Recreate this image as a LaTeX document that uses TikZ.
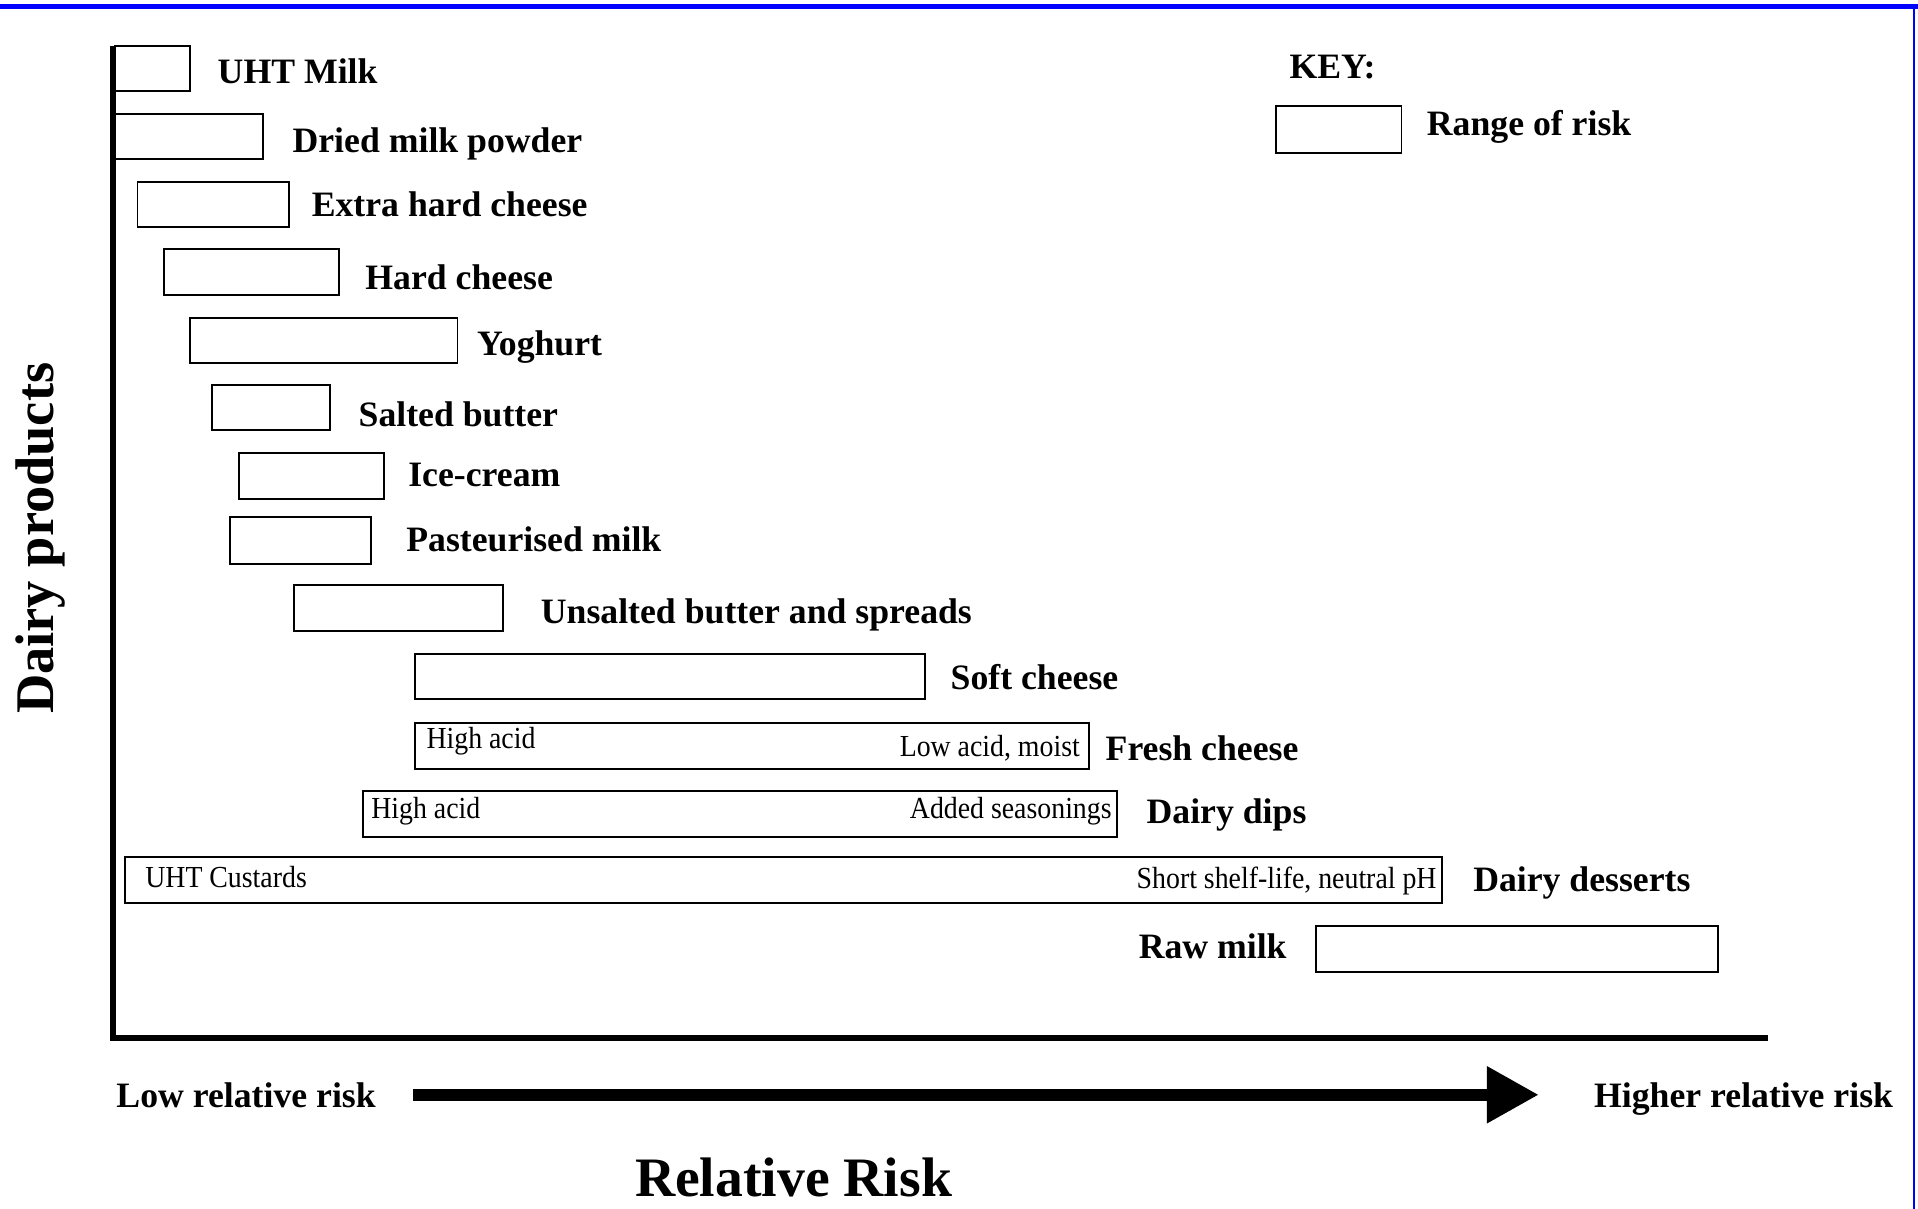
\documentclass[tikz,border=0pt]{standalone}
\usepackage{fontspec}
\setmainfont{Liberation Serif}
\newfontfamily\smallserif[FakeStretch=0.91]{Liberation Serif}
\usetikzlibrary{arrows.meta,fit}
\begin{document}
\begin{tikzpicture}[x=1pt,y=-1pt,
  rbox/.style={draw=black,line width=1.5pt,inner sep=0pt},
  lab/.style={inner sep=0pt,anchor=base west,font=\bfseries\fontsize{29.2}{34}\selectfont},
  labr/.style={inner sep=0pt,anchor=base east,font=\bfseries\fontsize{29.2}{34}\selectfont},
  sm/.style={inner sep=0pt,anchor=base west,font=\smallserif\fontsize{25}{29}\selectfont},
  smr/.style={inner sep=0pt,anchor=base east,font=\smallserif\fontsize{25}{29}\selectfont},
  big/.style={inner sep=0pt,font=\bfseries\fontsize{45.5}{52}\selectfont},
  axisline/.style={line width=#1,black},
  frameline/.style={line width=#1,blue}]
\useasboundingbox (0,0) rectangle (1568,988);
% frame
\coordinate (ftl) at (0,5.5);
\coordinate (ftr) at (1568,5.5);
\coordinate (frt) at (1565,4);
\coordinate (frb) at (1565,988);
\draw[frameline=4pt] (ftl) -- (ftr);
\draw[frameline=1.5pt] (frt) -- (frb);
% axes
\coordinate (yt) at (92.5,37.6);
\coordinate (yb) at (92.5,851);
\coordinate (xl) at (90.3,848.5);
\coordinate (xr) at (1445.5,848.5);
\draw[axisline=4.5pt] (yt) -- (yb);
\draw[axisline=5.5pt] (xl) -- (xr);
% boxes and labels
\node[rbox,fit={(94,37.6)(155,74.4)}] (b1) {};
\node[lab] (l1) at (177.8,68.5) {UHT Milk};
\node[rbox,fit={(94,93.5)(215,130)}] (b2) {};
\node[lab] (l2) at (239,124.5) {Dried milk powder};
\node[rbox,fit={(112.4,148.5)(236.5,185.3)}] (b3) {};
\node[lab] (l3) at (254.7,176.8) {Extra hard cheese};
\node[rbox,fit={(134,203.8)(277,241.2)}] (b4) {};
\node[lab] (l4) at (298.5,236.7) {Hard cheese};
\node[rbox,fit={(155,260.2)(374,297)}] (b5) {};
\node[lab] (l5) at (389.8,290.4) {Yoghurt};
\node[rbox,fit={(173.6,314.7)(269.5,351.5)}] (b6) {};
\node[lab] (l6) at (293,348.5) {Salted butter};
\node[rbox,fit={(195.5,370)(314,407.7)}] (b7) {};
\node[lab] (l7) at (333.6,397.5) {Ice-cream};
\node[rbox,fit={(187.7,422.4)(303,461.4)}] (b8) {};
\node[lab] (l8) at (332,451) {Pasteurised milk};
\node[rbox,fit={(240.4,478.5)(411,515.6)}] (b9) {};
\node[lab] (l9) at (442,510) {Unsalted butter and spreads};
\node[rbox,fit={(339.4,534.7)(756.5,571.7)}] (b10) {};
\node[lab] (l10) at (777,564) {Soft cheese};
\node[rbox,fit={(339.4,590.8)(890.3,628.5)}] (b11) {};
\node[sm] (s11a) at (348.5,612.3) {High acid};
\node[smr] (s11b) at (883,618.5) {Low acid, moist};
\node[lab] (l11) at (903.7,621.8) {Fresh cheese};
\node[rbox,fit={(296.7,646.5)(913.2,684)}] (b12) {};
\node[sm] (s12a) at (303.4,669) {High acid};
\node[smr] (s12b) at (909,669.5) {Added seasonings};
\node[lab] (l12) at (937.2,673.5) {Dairy dips};
\node[rbox,fit={(102.5,700.5)(1179,738)}] (b13) {};
\node[sm] (s13a) at (118.6,725.5) {UHT Custards};
\node[smr] (s13b) at (1174.6,726.5) {Short shelf-life, neutral pH};
\node[lab] (l13) at (1204.2,729) {Dairy desserts};
\node[rbox,fit={(1076,757)(1404.3,794.4)}] (b14) {};
\node[labr] (l14) at (1052,783.6) {Raw milk};
% key
\node[lab] (key) at (1054,64.5) {KEY:};
\node[rbox,fit={(1042.8,86.7)(1145.8,125.3)}] (kb) {};
\node[lab] (kl) at (1166.3,110.9) {Range of risk};
% bottom
\node[lab] (low) at (95,905.5) {Low relative risk};
\node[lab] (high) at (1303,905.2) {Higher relative risk};
\coordinate (as) at (338,895);
\coordinate (ae) at (1258,895);
\draw[line width=10pt,-{Triangle[length=42.5pt,width=44pt]}] (as) -- (ae);
\node[big,anchor=base west] (xt) at (519,978) {Relative Risk};
\node[big,anchor=base,rotate=90,font=\bfseries\fontsize{44.5}{52}\selectfont] (yl) at (44,440) {Dairy products};
\end{tikzpicture}
\end{document}
